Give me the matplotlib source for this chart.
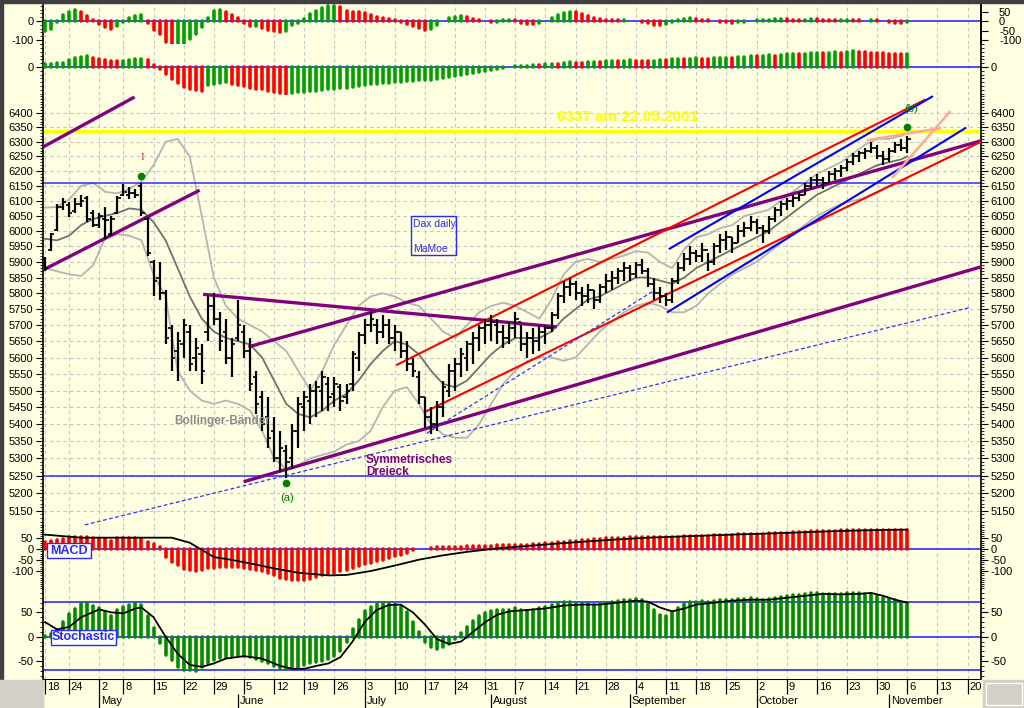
import numpy as np
import matplotlib
matplotlib.use("Agg")
import matplotlib.pyplot as plt
from matplotlib.patches import Rectangle
from matplotlib.ticker import FixedLocator, NullFormatter, FuncFormatter

plt.rcParams['font.family'] = ['Liberation Sans', 'DejaVu Sans']
plt.rcParams['axes.unicode_minus'] = False

W, H = 1024, 708
BG = '#ffffe1'

# ---- time axis (trading-day index, 0 = 18 April 2006) ----
week_idx = [0, 4, 9, 13, 18, 23, 28, 33, 38, 43, 48, 53, 58, 63, 68, 73, 78, 83,
            88, 93, 98, 103, 108, 113, 118, 123, 128, 133, 138, 143, 148, 153]
week_lbl = ['18', '24', '2', '8', '15', '22', '29', '5', '12', '19', '26', '3', '10',
            '17', '24', '31', '7', '14', '21', '28', '4', '11', '18', '25', '2', '9',
            '16', '23', '30', '6', '13', '20']
month_idx = [9, 32, 53, 74, 97, 118, 140]
month_lbl = ['May', 'June', 'July', 'August', 'September', 'October', 'November']

# ---- daily DAX bars ----
opens = [5910, 5940, 6005, 6080, 6085, 6065, 6090, 6110, 6060, 6020, 6040, 5990, 6060, 6120, 6120, 6125, 6150,
         6040, 5900, 5850, 5800, 5690, 5620, 5640, 5680, 5600, 5610, 5680, 5760, 5720, 5680, 5600, 5660,
         5680, 5620, 5540, 5480, 5420, 5380, 5300, 5320, 5300, 5380, 5450, 5470, 5500, 5500, 5520, 5490,
         5510, 5480, 5520, 5600, 5670, 5700, 5700, 5680, 5700, 5660, 5680, 5620, 5580, 5540, 5480, 5420,
         5400, 5450, 5500, 5560, 5580, 5600, 5640, 5660, 5690, 5700, 5700, 5680, 5660, 5690, 5710, 5640,
         5660, 5650, 5680, 5690, 5730, 5790, 5820, 5830, 5800, 5790, 5810, 5780, 5820, 5840, 5850, 5870,
         5880, 5860, 5890, 5870, 5830, 5800, 5790, 5780, 5840, 5880, 5910, 5930, 5920, 5940, 5900, 5950,
         5970, 5980, 5960, 6000, 6010, 6030, 6010, 6000, 6040, 6070, 6090, 6100, 6110, 6120, 6150, 6170,
         6170, 6160, 6190, 6200, 6210, 6230, 6250, 6260, 6270, 6280, 6250, 6240, 6270, 6290, 6280]
highs = [5915, 5995, 6090, 6110, 6095, 6110, 6120, 6115, 6070, 6060, 6080, 6050, 6115, 6155, 6145, 6140, 6160,
         6045, 5905, 5900, 5810, 5700, 5680, 5720, 5700, 5660, 5640, 5790, 5800, 5740, 5720, 5660, 5780,
         5700, 5660, 5560, 5500, 5480, 5420, 5380, 5340, 5400, 5480, 5500, 5520, 5530, 5560, 5540, 5540,
         5520, 5520, 5620, 5680, 5720, 5740, 5720, 5730, 5720, 5700, 5680, 5650, 5600, 5560, 5480, 5450,
         5470, 5530, 5580, 5600, 5630, 5650, 5680, 5700, 5720, 5730, 5720, 5700, 5710, 5740, 5700, 5680,
         5690, 5700, 5700, 5740, 5800, 5840, 5850, 5840, 5820, 5830, 5810, 5830, 5860, 5870, 5880, 5900,
         5890, 5900, 5910, 5880, 5850, 5820, 5800, 5850, 5900, 5930, 5950, 5940, 5960, 5930, 5960, 5990,
         6000, 5980, 6020, 6030, 6050, 6040, 6020, 6050, 6080, 6100, 6110, 6120, 6130, 6160, 6180, 6190,
         6180, 6200, 6210, 6220, 6240, 6260, 6270, 6280, 6300, 6290, 6270, 6280, 6300, 6310, 6320]
lows = [5870, 5935, 6000, 6070, 6045, 6060, 6080, 6030, 6015, 6010, 5975, 5985, 6055, 6115, 6105, 6110, 6050,
        5920, 5790, 5780, 5640, 5560, 5530, 5600, 5560, 5560, 5520, 5650, 5700, 5620, 5580, 5540, 5650,
        5600, 5500, 5430, 5380, 5330, 5290, 5260, 5243, 5270, 5330, 5380, 5400, 5420, 5440, 5440, 5450,
        5440, 5460, 5500, 5560, 5640, 5680, 5640, 5660, 5640, 5620, 5600, 5560, 5540, 5460, 5390, 5370,
        5380, 5420, 5480, 5500, 5540, 5560, 5580, 5620, 5640, 5650, 5640, 5630, 5640, 5660, 5620, 5600,
        5610, 5620, 5640, 5680, 5720, 5770, 5790, 5780, 5760, 5770, 5750, 5770, 5800, 5810, 5830, 5840,
        5840, 5850, 5860, 5820, 5780, 5770, 5760, 5770, 5830, 5870, 5890, 5900, 5900, 5870, 5890, 5930,
        5940, 5930, 5960, 5980, 6000, 5990, 5960, 5990, 6030, 6050, 6070, 6080, 6100, 6120, 6140, 6150,
        6140, 6160, 6170, 6180, 6200, 6220, 6230, 6240, 6260, 6240, 6220, 6230, 6260, 6270, 6260]
closes = [5880, 5990, 6080, 6095, 6060, 6090, 6100, 6040, 6020, 6050, 6035, 6040, 6110, 6130, 6125, 6120, 6060,
          5930, 5840, 5800, 5660, 5600, 5650, 5700, 5580, 5630, 5560, 5760, 5720, 5650, 5600, 5640, 5700,
          5620, 5520, 5460, 5400, 5360, 5300, 5330, 5290, 5380, 5460, 5480, 5500, 5510, 5540, 5480, 5520,
          5470, 5500, 5610, 5670, 5700, 5720, 5680, 5700, 5660, 5680, 5620, 5580, 5560, 5480, 5420, 5400,
          5450, 5510, 5560, 5580, 5610, 5640, 5660, 5690, 5700, 5710, 5680, 5660, 5690, 5720, 5640, 5660,
          5650, 5680, 5690, 5730, 5790, 5820, 5830, 5800, 5790, 5810, 5780, 5820, 5840, 5850, 5870, 5880,
          5860, 5890, 5870, 5830, 5800, 5790, 5780, 5840, 5880, 5910, 5930, 5920, 5940, 5900, 5950, 5970,
          5980, 5960, 6000, 6010, 6030, 6010, 6000, 6040, 6070, 6090, 6100, 6110, 6120, 6150, 6170, 6170,
          6160, 6190, 6200, 6210, 6230, 6250, 6260, 6270, 6280, 6250, 6240, 6270, 6290, 6280, 6310]

# ---- Bollinger bands (read every two days) ----
bb_idx = list(range(0, 143, 2)) + [143]
bb_upper = [6077, 6080, 6105, 6150, 6160, 6130, 6125, 6140, 6165, 6220, 6300, 6310, 6250, 6050, 5850, 5760,
            5720, 5700, 5680, 5650, 5620, 5560, 5500, 5560, 5640, 5700, 5760, 5790, 5800, 5790, 5770, 5760,
            5720, 5680, 5660, 5700, 5740, 5760, 5770, 5760, 5740, 5720, 5780, 5860, 5900, 5910, 5900, 5910,
            5920, 5935, 5930, 5900, 5880, 5940, 5980, 5990, 6010, 6020, 6050, 6060, 6070, 6100, 6130, 6160,
            6190, 6210, 6230, 6260, 6290, 6310, 6310, 6320, 6330]
bb_mid = [5975, 5970, 5985, 6020, 6040, 6050, 6060, 6075, 6070, 6030, 5970, 5880, 5790, 5720, 5680, 5660,
          5650, 5640, 5600, 5530, 5460, 5430, 5420, 5440, 5470, 5490, 5530, 5580, 5620, 5650, 5640, 5610,
          5560, 5520, 5510, 5530, 5570, 5610, 5640, 5660, 5660, 5660, 5680, 5720, 5750, 5780, 5790, 5810,
          5830, 5850, 5850, 5840, 5830, 5850, 5880, 5900, 5920, 5940, 5960, 5980, 6000, 6030, 6060, 6090,
          6120, 6140, 6160, 6180, 6200, 6220, 6230, 6240, 6250]
bb_lower = [5880, 5870, 5860, 5855, 5890, 5980, 5990, 5985, 5970, 5860, 5790, 5560, 5500, 5470, 5460, 5470,
            5460, 5440, 5380, 5300, 5270, 5280, 5300, 5310, 5320, 5340, 5350, 5380, 5450, 5500, 5510, 5460,
            5400, 5370, 5360, 5360, 5400, 5460, 5520, 5560, 5590, 5600, 5600, 5590, 5600, 5640, 5680, 5710,
            5740, 5760, 5770, 5760, 5740, 5740, 5760, 5800, 5830, 5860, 5880, 5900, 5930, 5960, 5990, 6020,
            6050, 6070, 6090, 6100, 6110, 6130, 6150, 6160, 6170]

# ---- hand-drawn analysis lines [idx0, price0, idx1, price1] ----
purple_lines = [[-0.33, 6282, 14.6, 6453], [-0.33, 5874, 25.4, 6133], [26.5, 5796, 84.6, 5695],
                [34.0, 5634, 155.2, 6303], [33.2, 5234, 155.2, 5884]]
red_lines = [[58.4, 5578, 145.9, 6446], [63.0, 5436, 155.2, 6300]]
blue_lines = [[103.6, 5943, 147.1, 6457], [103.3, 5741, 152.6, 6347]]
blue_dashed = [[6.6, 5111, 153.4, 5755], [63.3, 5373, 101.2, 5811]]
pink_lines = [[136.5, 6306, 148.4, 6347], [140.6, 6180, 150.0, 6403]]
yellow_level = 6337
blue_levels = [6160, 5250]
marker_idx = [16, 40, 143]
marker_price = [6185, 5228, 6352]

# ---- oscillators ----
osc1 = [-53, -40, -5, 33, 45, 56, 45, 27, 5, -16, -31, -40, -27, -5, 15, 29, 31, -9, -49, -67, -113, -140,
        -131, -122, -95, -67, -31, 15, 51, 56, 45, 33, 15, -9, -27, -27, -35, -45, -53, -58, -55, -22,
        -10, 10, 35, 55, 70, 78, 80, 72, 55, 50, 45, 40, 30, 20, 15, 10, 5, -5, -15, -25,
        -35, -45, -40, -20, 0, 15, 22, 25, 20, 12, 5, 2, -5, -3, 5, 8, 3, -8, -15, -18,
        -12, 0, 15, 30, 42, 48, 45, 35, 25, 15, 10, 8, 5, 3, 5, 2, -2, -5, -12, -20,
        -22, -15, -5, 5, 12, 15, 12, 8, 5, 2, -3, -5, -8, -5, -3, 0, 3, 5, 8, 10,
        12, 10, 8, 5, 8, 12, 10, 7, 5, 3, 5, 8, 6, 3, 2, 5, 3, -2, -5, -8, -12, -6]
osc2 = [14, 14, 19, 23, 37, 47, 54, 58, 47, 40, 37, 32, 30, 33, 37, 40, 44, 35, 9, -12, -39, -65, -86, -103,
        -114, -121, -124, -96, -91, -82, -79, -91, -95, -100, -109, -114, -117, -126, -132, -139, -142, -135,
        -132, -130, -128, -125, -122, -118, -115, -110, -108, -105, -100, -95, -90, -88, -85, -82, -80, -78,
        -75, -72, -70, -68, -66, -62, -58, -52, -46, -40, -35, -30, -25, -20, -15, -10, -5, 0, 3, 6,
        8, 12, 10, 14, 18, 16, 20, 24, 22, 20, 24, 28, 26, 30, 32, 30, 34, 36, 34, 32,
        30, 34, 38, 36, 40, 42, 40, 44, 46, 44, 42, 46, 48, 50, 48, 52, 55, 58, 56, 60,
        62, 60, 64, 66, 68, 66, 70, 72, 74, 72, 75, 78, 76, 80, 82, 80, 78, 76, 74, 72, 70, 68, 66, 68]
macd_bars = [35, 40, 43, 48, 55, 58, 58, 58, 50, 46, 46, 40, 50, 52, 52, 50, 47, 35, 25, 9,
             -34, -57, -72, -92, -95, -98, -95, -87, -87, -83, -80, -80, -80,
             -85, -90, -95, -100, -110, -120, -130, -136, -140, -141, -140, -135, -128, -120, -113, -107,
             -100, -93, -85, -75, -68, -62, -55, -50, -42, -33, -25, -15, -5, 0, 3, 5, 8, 10, 11, 12,
             12, 13, 14, 15, 16, 17, 18, 18, 19, 20, 20, 21, 22, 25, 27, 29, 31, 34, 37, 39, 41, 44,
             46, 48, 50, 51, 52, 53, 54, 55, 55, 55, 55, 55, 56, 57, 58, 59, 60, 61, 62, 63, 64, 65,
             66, 67, 69, 70, 71, 71, 72, 73, 74, 75, 76, 78, 80, 81, 82, 83, 83, 84, 85, 86, 87, 87,
             88, 89, 90, 90, 90, 89, 88, 88, 86]
macd_idx = [0, 6, 21, 24, 28, 31, 34, 38, 42, 47, 50, 54, 58, 62, 66, 70, 75, 80, 85, 90, 95, 100,
            105, 110, 115, 120, 125, 130, 135, 140, 143]
macd_line = [67, 53, 53, 30, -36, -49, -65, -88, -108, -120, -118, -100, -75, -48, -28, -12, 4, 15,
             26, 36, 45, 53, 58, 63, 68, 72, 77, 82, 86, 89, 90]
stoch_bars = [2, 5, 14, 31, 46, 57, 68, 69, 63, 60, 50, 43, 55, 61, 66, 70, 66, 43, 17, -14, -38, -48, -62,
              -69, -69, -70, -62, -55, -48, -43, -41, -40, -38,
              -40, -42, -45, -50, -55, -60, -64, -66, -65, -62, -58, -55, -52, -50, -45, -40, -30, -10,
              15, 35, 52, 62, 68, 70, 70, 68, 62, 50, 30, 10, -10, -22, -25, -22, -15, -5, 8, 20,
              32, 42, 48, 52, 55, 55, 55, 58, 55, 52, 55, 58, 62, 66, 70, 72, 72, 70, 68, 68,
              66, 68, 70, 72, 74, 76, 76, 78, 76, 68, 55, 45, 42, 50, 60, 68, 72, 72, 74, 72,
              74, 76, 76, 75, 78, 78, 80, 78, 76, 78, 80, 82, 84, 85, 86, 88, 90, 90, 88, 88,
              88, 88, 89, 90, 90, 88, 88, 84, 80, 78, 75, 70, 70]
stoch_idx = [0, 2, 4, 6, 9, 11, 13, 15, 16, 18, 20, 22, 24, 26, 28, 30, 33, 36, 39, 41, 43, 45, 47, 49,
             51, 53, 55, 57, 59, 61, 63, 65, 67, 69, 71, 73, 75, 77, 80, 83, 86, 89, 92, 95, 98, 100,
             102, 104, 106, 108, 111, 114, 117, 120, 123, 126, 129, 132, 135, 137, 139, 141, 143]
stoch_line = [30, 15, 20, 40, 56, 50, 48, 58, 60, 40, 0, -35, -58, -62, -55, -45, -40, -45, -60, -66, -66,
              -60, -55, -42, -10, 30, 55, 65, 66, 50, 25, -5, -15, -10, 10, 30, 45, 52, 55, 58, 64, 66,
              66, 70, 74, 72, 60, 52, 58, 66, 70, 74, 76, 76, 80, 84, 88, 87, 88, 90, 84, 76, 70]

# ---------------------------------------------------------------------------
fig = plt.figure(figsize=(W / 100, H / 100), dpi=100, facecolor=BG)
X0, X1 = 43, 981
XLIM = ((X0 - 45) / 6.03, (X1 - 45) / 6.03)


def px_axes(y0, y1, x0=X0, x1=X1):
    a = fig.add_axes([x0 / W, 1 - y1 / H, (x1 - x0) / W, (y1 - y0) / H])
    a.set_facecolor(BG)
    a.set_xlim(*XLIM)
    return a


def style_panel(a):
    for s in ('top', 'bottom'):
        a.spines[s].set_visible(False)
    for s in ('left', 'right'):
        a.spines[s].set_linewidth(1.2)
    a.tick_params(axis='y', which='both', left=True, right=True, labelleft=True,
                  labelright=True, direction='out', labelsize=8, colors='black', pad=2)
    a.tick_params(axis='y', which='major', length=5)
    a.tick_params(axis='y', which='minor', length=2.5)
    a.tick_params(axis='x', which='both', bottom=False, labelbottom=False)
    for wi in week_idx:
        a.axvline(wi, color='#c4c4c4', lw=0.8, ls=(0, (3, 3)), zorder=0)


def hist(a, vals, colors):
    a.vlines(range(len(vals)), 0, vals, colors=colors, lw=2.6, capstyle='round', zorder=3)


def updown(vals):
    cols = []
    for i, v in enumerate(vals):
        prev = vals[i - 1] if i > 0 else v
        cols.append('#00a000' if v >= prev else '#ff0000')
    return cols


BLUE = '#2a2aff'

# top oscillator 1
axA = px_axes(3, 44)
axA.set_ylim(-121, 95)
style_panel(axA)
axA.axhline(0, color=BLUE, lw=1.2, zorder=2)
hist(axA, osc1, updown(osc1))
axA.yaxis.set_major_locator(FixedLocator([0, -100]))
axA.yaxis.set_minor_locator(FixedLocator(range(-120, 100, 20)))
axA.yaxis.set_minor_formatter(NullFormatter())
axA2 = axA.twinx()
axA2.set_ylim(-121, 95)
axA2.yaxis.set_major_locator(FixedLocator([50, 0, -50, -100]))
axA2.tick_params(axis='y', labelsize=8, length=5, pad=8)
axA.tick_params(axis='y', labelright=False, right=False)
for s in ('top', 'bottom', 'left', 'right'):
    axA2.spines[s].set_visible(False)
axA2.spines['right'].set_visible(True)
axA2.spines['right'].set_linewidth(1.2)

# top oscillator 2
axB = px_axes(44, 95)
axB.set_ylim(-147, 121)
style_panel(axB)
axB.axhline(0, color=BLUE, lw=1.2, zorder=2)
hist(axB, osc2, updown(osc2))
axB.yaxis.set_major_locator(FixedLocator([0]))
axB.yaxis.set_minor_locator(FixedLocator(range(-140, 121, 20)))
axB.yaxis.set_minor_formatter(NullFormatter())

# price panel
axP = px_axes(95, 527)
axP.set_yscale('log')
axP.set_ylim(5105, 6463)
style_panel(axP)
price_ticks = list(range(5150, 6401, 50))
axP.yaxis.set_major_locator(FixedLocator(price_ticks))
axP.yaxis.set_major_formatter(FuncFormatter(lambda v, p: f'{v:.0f}'))
axP.yaxis.set_minor_locator(FixedLocator(range(5110, 6461, 10)))
axP.yaxis.set_minor_formatter(NullFormatter())
for pt in price_ticks:
    axP.axhline(pt, color='#c4c4c4', lw=0.8, ls=(0, (3, 3)), zorder=0)

axP.plot(bb_idx, bb_upper, color='#b4b4b4', lw=1.3, zorder=2)
axP.plot(bb_idx, bb_lower, color='#b4b4b4', lw=1.3, zorder=2)
axP.plot(bb_idx, bb_mid, color='#707070', lw=1.3, zorder=2)

axP.axhline(yellow_level, color='#ffff00', lw=2.4, zorder=2)
for lv in blue_levels:
    axP.axhline(lv, color=BLUE, lw=1.1, zorder=2)

for l in purple_lines:
    axP.plot([l[0], l[2]], [l[1], l[3]], color='#800080', lw=2.4, zorder=4)
for l in red_lines:
    axP.plot([l[0], l[2]], [l[1], l[3]], color='#ff0000', lw=1.5, zorder=4)
for l in blue_lines:
    axP.plot([l[0], l[2]], [l[1], l[3]], color='#0000ff', lw=1.5, zorder=4)
for l in blue_dashed:
    axP.plot([l[0], l[2]], [l[1], l[3]], color='#3030ff', lw=0.9, ls=(0, (3, 2)), zorder=4)
for l in pink_lines:
    axP.plot([l[0], l[2]], [l[1], l[3]], color='#ffa898', lw=1.8, zorder=4)

idx = np.arange(len(closes))
axP.vlines(idx, lows, highs, colors='black', lw=1.6, zorder=5)
axP.hlines(opens, idx - 0.55, idx, colors='black', lw=1.2, zorder=5)
axP.hlines(closes, idx, idx + 0.55, colors='black', lw=1.2, zorder=5)
axP.plot(marker_idx, marker_price, 'o', color='#008000', ms=4.5, zorder=6)

# MACD panel
axD = px_axes(527, 590)
axD.set_ylim(-187, 102)
style_panel(axD)
axD.axhline(0, color=BLUE, lw=1.2, zorder=2)
hist(axD, macd_bars, '#ff0000')
axD.plot(macd_idx, macd_line, color='black', lw=1.3, zorder=4)
axD.yaxis.set_major_locator(FixedLocator([50, 0, -50, -100]))
axD.yaxis.set_minor_locator(FixedLocator(range(-180, 101, 10)))
axD.yaxis.set_minor_formatter(NullFormatter())

# Stochastic panel
axE = px_axes(590, 679)
axE.set_ylim(-87, 96)
style_panel(axE)
for lv in (72, 0, -68):
    axE.axhline(lv, color=BLUE, lw=1.2, zorder=2)
hist(axE, stoch_bars, '#008c00')
axE.plot(stoch_idx, stoch_line, color='black', lw=1.3, zorder=4)
axE.yaxis.set_major_locator(FixedLocator([50, 0, -50]))
axE.yaxis.set_minor_locator(FixedLocator(range(-80, 96, 10)))
axE.yaxis.set_minor_formatter(NullFormatter())

# date strip
axT = px_axes(679, 708)
axT.set_ylim(0, 2)
axT.axis('off')
axT.axhline(2, color='black', lw=1.5)
axT.vlines(week_idx, 1, 2, colors='black', lw=0.9)
for wi, wl in zip(week_idx, week_lbl):
    axT.text(wi + 0.3, 1.48, wl, ha='left', va='center', fontsize=8)
axT.vlines(month_idx, 0, 1, colors='black', lw=0.9)
for mi, ml in zip(month_idx, month_lbl):
    axT.text(mi + 0.3, 0.45, ml, ha='left', va='center', fontsize=8)
axT.axvline(XLIM[0], color='black', lw=1.5)


def ftext(x, y, s, **kw):
    fig.text(x / W, 1 - y / H, s, **kw)


ftext(627, 117, '6337 am 22.05.2001', color='#ffff00', fontsize=11, fontweight='bold',
      ha='center', va='center')
ftext(142, 157, 'I', color='#ff2020', fontsize=8, family='Liberation Serif', ha='center', va='center')
ftext(287, 498, '(a)', color='#008000', fontsize=8, ha='center', va='center')
ftext(911, 109, '(b)', color='#008000', fontsize=8, ha='center', va='center')
ftext(174, 421, 'Bollinger-Bänder', color='#8c8c8c', fontsize=8.5, fontweight='bold', va='center')
ftext(366, 460, 'Symmetrisches', color='#800080', fontsize=8.5, fontweight='bold', va='center')
ftext(366, 472, 'Dreieck', color='#800080', fontsize=8.5, fontweight='bold', va='center')

fig.patches.append(Rectangle((411 / W, 1 - 255 / H), 45 / W, 39 / H, transform=fig.transFigure,
                             facecolor='none', edgecolor=BLUE, lw=1.0, zorder=10))
ftext(413, 224, 'Dax daily', color=BLUE, fontsize=7.5, va='center')
ftext(413, 249, 'MaMoe', color=BLUE, fontsize=7.5, va='center')

fig.patches.append(Rectangle((47 / W, 1 - 558 / H), 44 / W, 15 / H, transform=fig.transFigure,
                             facecolor='white', edgecolor=BLUE, lw=1.0, zorder=10))
ftext(69, 550.5, 'MACD', color=BLUE, fontsize=9, fontweight='bold', ha='center', va='center', zorder=11)
fig.patches.append(Rectangle((51 / W, 1 - 645 / H), 65 / W, 15 / H, transform=fig.transFigure,
                             facecolor='white', edgecolor=BLUE, lw=1.0, zorder=10))
ftext(83.5, 637.5, 'Stochastic', color=BLUE, fontsize=9, fontweight='bold', ha='center', va='center',
      zorder=11)

# frame decorations
fig.patches.append(Rectangle((0, 1 - 3 / H), 1, 3 / H, transform=fig.transFigure, color='#404040'))
fig.patches.append(Rectangle((0, 28 / H), 3 / W, 1, transform=fig.transFigure, color='#404040'))
fig.patches.append(Rectangle((0, 0), 43 / W, 28 / H, transform=fig.transFigure, color='#d4d0c8'))
fig.patches.append(Rectangle((983 / W, 0), 41 / W, 28 / H, transform=fig.transFigure, color='#d4d0c8'))
fig.patches.append(Rectangle((986 / W, 3 / H), 36 / W, 22 / H, transform=fig.transFigure,
                             facecolor='#d4d0c8', edgecolor='#ffffff', lw=1.0))

fig.savefig('out.png', dpi=100, facecolor=BG)
